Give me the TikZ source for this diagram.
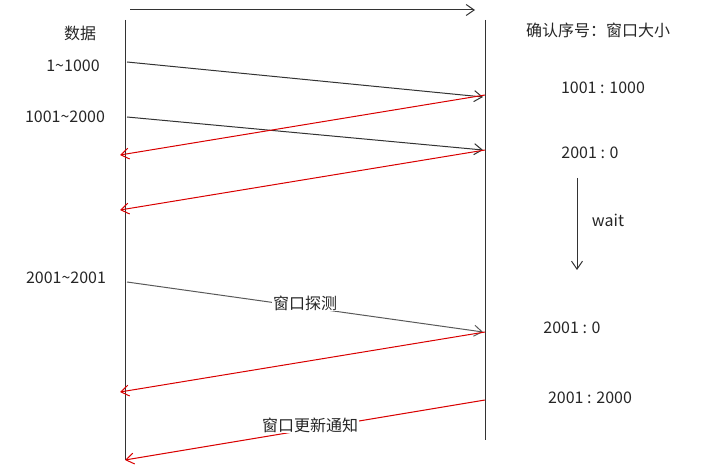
\documentclass[tikz,border=0pt]{standalone}
\usepackage{fontspec}
\setmainfont{Noto Sans CJK SC}
\usetikzlibrary{arrows.meta}
\begin{document}
\begin{tikzpicture}[x=1pt,y=-1pt,
  lbl/.style={font=\fontsize{16}{18}\selectfont,text=black!85},
  blk/.style={draw=black!80,line width=1pt,-{Straight Barb[length=8pt,width=11pt]}},
  red/.style={draw=red!85!black,line width=1pt,-{Straight Barb[length=8pt,width=11pt]}}]
\useasboundingbox (0,0) rectangle (704,470);
\coordinate (L1) at (125,20); \coordinate (L2) at (125,460);
\coordinate (R1) at (485,20); \coordinate (R2) at (485,440);
\draw[black!80,line width=1pt] (L1) -- (L2);
\draw[black!80,line width=1pt] (R1) -- (R2);
\coordinate (t1) at (130,10); \coordinate (t2) at (475,10);
\draw[blk] (t1) -- (t2);
\node[lbl] (hd) at (80,33) {数据};
\node[lbl] (hr) at (598,30) {确认序号：窗口大小};
\node[lbl] (d1) at (73,66) {1\textasciitilde1000};
\node[lbl] (d2) at (65,117) {1001\textasciitilde2000};
\node[lbl] (d3) at (66,278) {2001\textasciitilde2001};
\coordinate (a1) at (127,62); \coordinate (b1) at (483,97);
\coordinate (a2) at (127,117); \coordinate (b2) at (483,150);
\coordinate (a3) at (127,282); \coordinate (b3) at (483,332);
\draw[blk] (a1) -- (b1);
\draw[blk] (a2) -- (b2);
\draw[blk,draw=black!65] (a3) -- (b3);
\node[lbl,fill=white,inner sep=1pt] (p) at (305,303) {窗口探测};
\coordinate (r1) at (485,95); \coordinate (s1) at (120,155);
\coordinate (r2) at (485,150); \coordinate (s2) at (120,210);
\coordinate (r3) at (485,332); \coordinate (s3) at (120,392);
\coordinate (r4) at (485,400); \coordinate (s4) at (125,460);
\draw[red] (r1) -- (s1);
\draw[red] (r2) -- (s2);
\draw[red] (r3) -- (s3);
\draw[red] (r4) -- (s4);
\node[lbl,fill=white,inner sep=1pt] (u) at (310,425) {窗口更新通知};
\node[lbl] (k1) at (603,88) {1001 : 1000};
\node[lbl] (k2) at (590,153) {2001 : 0};
\node[lbl] (k3) at (572,328) {2001 : 0};
\node[lbl] (k4) at (590,398) {2001 : 2000};
\coordinate (w1) at (577,178); \coordinate (w2) at (577,270);
\draw[blk] (w1) -- (w2);
\node[lbl] (w) at (608,220) {wait};
\end{tikzpicture}
\end{document}
